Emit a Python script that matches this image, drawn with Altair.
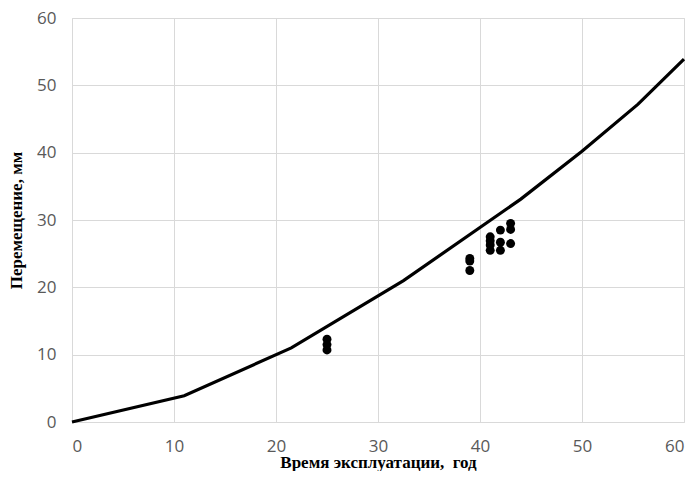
import altair as alt
import pandas as pd

# Model curve
line_x = [0, 11, 21.5, 32.5, 44, 50, 55.5, 60]
line_y = [0, 3.9, 11.0, 21.0, 33.1, 40.2, 47.2, 53.9]

# Measured displacements
pt_x = [25, 25, 25, 39, 39, 39, 41, 41, 41, 41, 42, 42, 42, 43, 43, 43]
pt_y = [12.3, 11.5, 10.7, 24.3, 23.9, 22.5, 27.5, 26.9, 26.3, 25.5,
        28.5, 26.7, 25.5, 29.5, 28.6, 26.5]

x_ticks = [0, 10, 20, 30, 40, 50, 60]
y_ticks = [0, 10, 20, 30, 40, 50, 60]

line_df = pd.DataFrame({"x": line_x, "y": line_y})
pt_df = pd.DataFrame({"x": pt_x, "y": pt_y})

x_scale = alt.Scale(domain=[0, 60], nice=False, zero=True)
y_scale = alt.Scale(domain=[0, 60], nice=False, zero=True)

x_axis = alt.Axis(
    title="Время эксплуатации,\u00a0 год",
    values=x_ticks, grid=True, gridColor="#d9d9d9", gridWidth=1,
    domain=False, ticks=False, labelPadding=16,
    labelFont="Open Sans", labelFontSize=17, labelColor="#595959",
    titleFont="Liberation Serif", titleFontSize=17, titleFontWeight="bold",
    titleColor="#000000", titleY=45, titleBaseline="alphabetic",
)
y_axis = alt.Axis(
    title="Перемещение, мм",
    values=y_ticks, grid=True, gridColor="#d9d9d9", gridWidth=1,
    domain=False, ticks=False, labelPadding=16,
    labelFont="Open Sans", labelFontSize=17, labelColor="#595959",
    titleFont="Liberation Serif", titleFontSize=17, titleFontWeight="bold",
    titleColor="#000000", titlePadding=11,
)

line = alt.Chart(line_df).mark_line(color="#000000", strokeWidth=3.2).encode(
    x=alt.X("x:Q", scale=x_scale, axis=x_axis),
    y=alt.Y("y:Q", scale=y_scale, axis=y_axis),
)
points = alt.Chart(pt_df).mark_circle(color="#000000", opacity=1, size=80).encode(
    x=alt.X("x:Q", scale=x_scale),
    y=alt.Y("y:Q", scale=y_scale),
)

chart = alt.layer(line, points).properties(
    width=612, height=404,
    autosize=alt.AutoSizeParams(type="none"),
    padding={"left": 64, "top": 10, "right": 8, "bottom": 49},
).configure_view(stroke=None).configure(background="#ffffff")

chart.save("out.html", embed_options={"renderer": "svg", "actions": False})
